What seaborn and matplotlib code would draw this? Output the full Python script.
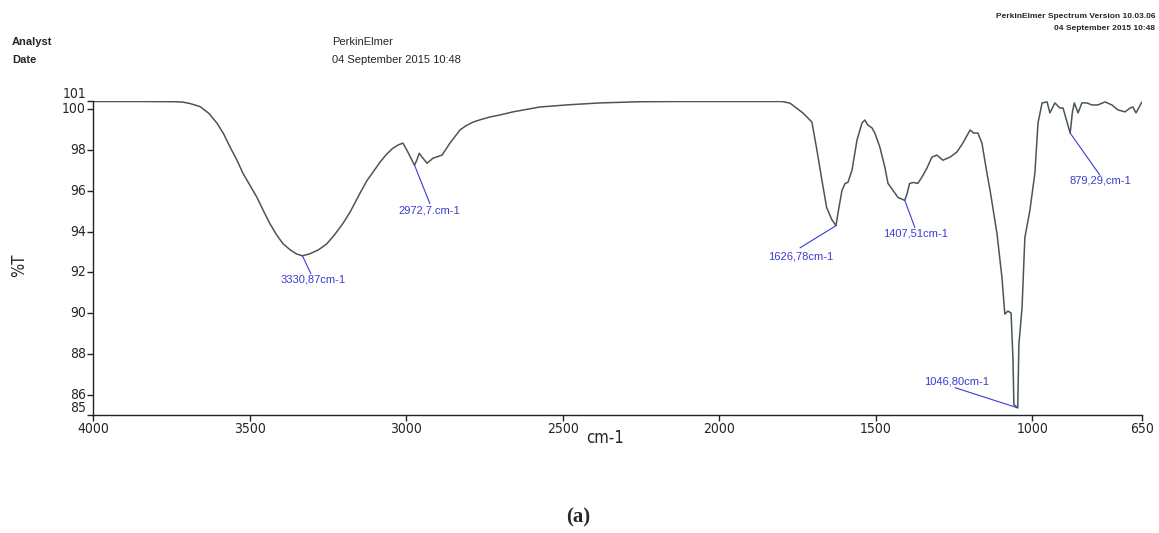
import pandas as pd
import numpy as np
import seaborn as sns
import matplotlib.pyplot as plt

# spectrum (wavenumber cm-1, %T)
wavenumber = [4000, 3850, 3740, 3713, 3690, 3658, 3630, 3604, 3583, 3562,
              3540, 3521, 3500, 3476, 3455, 3435, 3414, 3393, 3370, 3350,
              3331, 3307, 3280, 3253, 3228, 3202, 3179, 3150, 3125, 3104,
              3083, 3062, 3042, 3025, 3010, 2994,
              2973, 2966, 2958, 2949, 2933, 2914, 2885, 2860, 2828, 2810, 2786,
              2760, 2732, 2700, 2659, 2620, 2573, 2480, 2381, 2250, 2125, 1800, 1774, 1733, 1704, 1688,
              1672, 1657, 1641, 1627, 1621, 1608, 1598, 1589, 1576, 1560,
              1544, 1535, 1525, 1512, 1503, 1487, 1471, 1461, 1445, 1429,
              1407.5, 1400, 1392, 1380, 1366, 1353, 1337, 1321, 1305, 1286,
              1263, 1241, 1222, 1199, 1187, 1174, 1161, 1145, 1135, 1113,
              1097, 1088, 1078, 1068, 1062, 1059, 1046.8, 1043, 1033, 1024,
              1008, 992, 982, 969, 953, 944, 928, 912, 902, 879.3,
              872, 866, 854, 842, 826, 810, 791, 768, 746, 727,
              704, 688, 679, 669, 650]
transmittance = [100.38, 100.38, 100.37, 100.35, 100.28, 100.13, 99.8, 99.32, 98.8, 98.14,
                 97.5, 96.86, 96.3, 95.67, 95.0, 94.39, 93.85, 93.4, 93.1, 92.9,
                 92.81, 92.91, 93.1, 93.4, 93.85, 94.39, 94.95, 95.8, 96.5, 96.95,
                 97.41, 97.8, 98.09, 98.25, 98.34, 97.89,
                 97.25, 97.5, 97.84, 97.65, 97.35, 97.6, 97.75, 98.34, 98.98, 99.18, 99.37,
                 99.5, 99.62, 99.72, 99.87, 99.98, 100.11, 100.22, 100.31, 100.37, 100.38, 100.38, 100.3, 99.82, 99.37, 97.99,
                 96.51, 95.18, 94.6, 94.29, 94.88, 96.02, 96.36, 96.41, 97.01, 98.49,
                 99.33, 99.47, 99.22, 99.08, 98.83, 98.14, 97.15, 96.36, 96.02, 95.67,
                 95.53, 95.87, 96.36, 96.41, 96.36, 96.66, 97.1, 97.65, 97.75, 97.5,
                 97.65, 97.9, 98.34, 98.98, 98.83, 98.83, 98.34, 96.86, 96.02, 93.9,
                 91.73, 89.95, 90.1, 90.0, 87.78, 85.51, 85.35, 88.47, 90.25, 93.7,
                 95.03, 96.86, 99.32, 100.31, 100.36, 99.82, 100.31, 100.06, 100.06, 98.83,
                 99.87, 100.31, 99.82, 100.31, 100.31, 100.21, 100.21, 100.36, 100.21, 99.97,
                 99.87, 100.06, 100.11, 99.82, 100.36]

# peak labels, the peak they point at, and where the text sits
peak_labels = ['3330,87cm-1', '2972,7.cm-1', '1626,78cm-1', '1407,51cm-1', '1046,80cm-1', '879,29,cm-1']
peak_x = [3331, 2973, 1627, 1407.5, 1046.8, 879.3]
peak_y = [92.81, 97.25, 94.29, 95.53, 85.35, 98.83]
text_x = [3297, 2927, 1739, 1372, 1241, 784]
text_y = [91.63, 95.03, 92.8, 93.9, 86.64, 96.5]
line_end_x = [3304, 2924, 1742, 1375, 1247, 784]
line_end_y = [91.93, 95.37, 93.2, 94.19, 86.34, 96.76]

xticks = [4000, 3500, 3000, 2500, 2000, 1500, 1000, 650]
yticks = [85, 86, 88, 90, 92, 94, 96, 98, 100, 100.42]
ytick_labels = ['85', '86', '88', '90', '92', '94', '96', '98', '100', '101']

df = pd.DataFrame({'cm-1': wavenumber, '%T': transmittance})

sns.set_style('ticks')
plt.rcParams['font.family'] = ['DejaVu Sans']
plt.rcParams['font.stretch'] = 'condensed'

fig = plt.figure(figsize=(11.59, 5.33), dpi=100)
ax = fig.add_axes([0.0802, 0.2214, 0.9051, 0.5897])

sns.lineplot(data=df, x='cm-1', y='%T', ax=ax, color='#4a5656', linewidth=1.1,
             estimator=None, sort=False)

blue = '#3b3bd4'
for lab, px, py, tx, ty, lx, ly in zip(peak_labels, peak_x, peak_y, text_x, text_y, line_end_x, line_end_y):
    ax.plot([px, lx], [py, ly], color=blue, linewidth=0.8)
    ax.text(tx, ty, lab, color=blue, fontsize=8, ha='center', va='center',
            family=['Liberation Sans', 'DejaVu Sans'])

ax.set_xlim(4000, 650)
ax.set_ylim(85, 100.42)
ax.set_xticks(xticks)
ax.set_xticklabels([str(t) for t in xticks])
ax.set_yticks(yticks)
ax.set_yticklabels(ytick_labels)
ax.tick_params(axis='both', labelsize=10, length=4, width=1, color='#222222', pad=1)
ylabs = ax.get_yticklabels()
for lab in ylabs:
    lab.set_va('center')
ylabs[-1].set_va('bottom')  # top label sits just above the axis end
ylabs[0].set_va('bottom')
sns.despine(ax=ax)
for s in ['left', 'bottom']:
    ax.spines[s].set_color('#222222')
    ax.spines[s].set_linewidth(1)

ax.set_xlabel('cm-1', fontsize=12)
ax.xaxis.set_label_coords(0.488, -0.045)
ax.set_ylabel('%T', fontsize=12)
ax.yaxis.set_label_coords(-0.062, 0.477)

# header texts
hdr = ['Liberation Sans', 'DejaVu Sans']
fig.text(12 / 1159, 1 - 42 / 533, 'Analyst', fontsize=8, fontweight='bold', va='center', family=hdr)
fig.text(12 / 1159, 1 - 60 / 533, 'Date', fontsize=8, fontweight='bold', va='center', family=hdr)
fig.text(332 / 1159, 1 - 42 / 533, 'PerkinElmer', fontsize=8, va='center', family=hdr)
fig.text(332 / 1159, 1 - 60 / 533, '04 September 2015 10:48', fontsize=8, va='center', family=hdr)
fig.text(1155 / 1159, 1 - 16 / 533, 'PerkinElmer Spectrum Version 10.03.06', fontsize=6, ha='right',
         va='center', fontweight='bold', family=hdr)
fig.text(1155 / 1159, 1 - 29 / 533, '04 September 2015 10:48', fontsize=6, ha='right',
         va='center', fontweight='bold', family=hdr)
fig.text(578 / 1159, 1 - 517 / 533, '(a)', fontsize=15, fontweight='bold', ha='center', va='center',
         family=['Liberation Serif', 'DejaVu Serif'])

fig.savefig('out.png', dpi=100)
